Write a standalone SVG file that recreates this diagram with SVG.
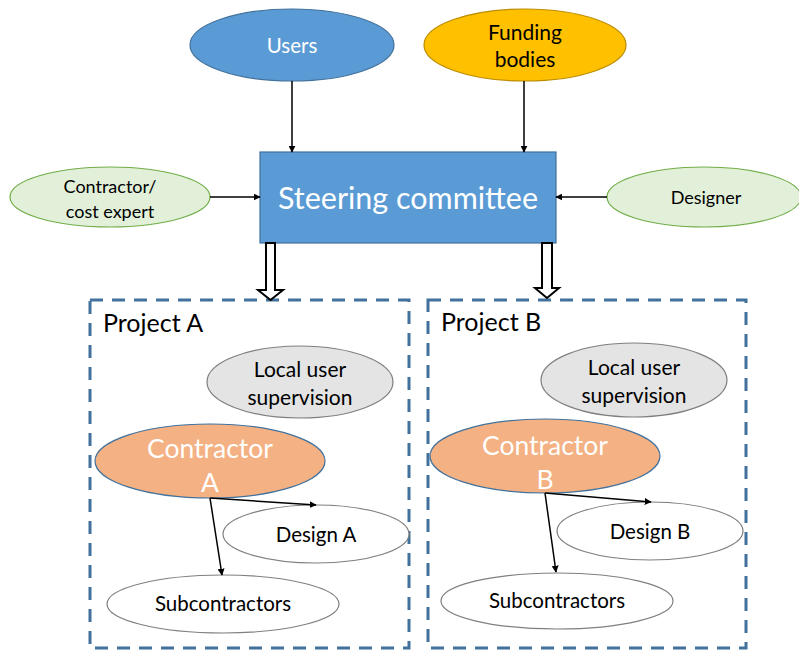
<svg xmlns="http://www.w3.org/2000/svg" width="799" height="650" viewBox="0 0 799 650">
  <defs>
    <marker id="arrow" viewBox="0 0 10 10" refX="9" refY="5" markerWidth="7" markerHeight="7" markerUnits="userSpaceOnUse" orient="auto">
      <path d="M0,0 L10,5 L0,10 z" fill="#000"/>
    </marker>
    <style>
      text { font-family: Lato, "Open Sans", "Liberation Sans", sans-serif; text-anchor: middle; }
      .conn { stroke: #000; stroke-width: 1.5; fill: none; marker-end: url(#arrow); }
      .block { fill: #fff; stroke: #000; stroke-width: 2; }
      .frame { fill: none; stroke: #41719C; stroke-width: 3; stroke-dasharray: 13 9; }
      .blue { fill: #5B9BD5; stroke: #41719C; stroke-width: 1.2; }
      .gold { fill: #FFC000; stroke: #BC8C00; stroke-width: 1.2; }
      .green { fill: #E2F0D9; stroke: #70AD47; stroke-width: 1.2; }
      .grey { fill: #E4E4E4; stroke: #7F7F7F; stroke-width: 1.2; }
      .orange { fill: #F4B183; stroke: #41719C; stroke-width: 1.2; }
      .plain { fill: #fff; stroke: #7F7F7F; stroke-width: 1.2; }
      .light { fill: #fff; }
      .dark { fill: #000; }
    </style>
  </defs>

  <!-- project frames -->
  <g id="projectA">
    <rect class="frame" x="90" y="300" width="319" height="348"/>
    <text class="dark" x="103" y="332" font-size="25" style="text-anchor:start">Project A</text>
  </g>
  <g id="projectB">
    <rect class="frame" x="428" y="300" width="318" height="348"/>
    <text class="dark" x="441" y="331" font-size="25" style="text-anchor:start">Project B</text>
  </g>

  <!-- top level nodes -->
  <g id="users">
    <ellipse class="blue" cx="292" cy="45" rx="102" ry="36"/>
    <text class="light" x="292" y="53" font-size="20.5">Users</text>
  </g>
  <g id="funding">
    <ellipse class="gold" cx="525" cy="45" rx="101" ry="36"/>
    <text class="dark" x="525" y="40" font-size="21">Funding</text>
    <text class="dark" x="525" y="67" font-size="21">bodies</text>
  </g>
  <g id="steering">
    <rect class="blue" x="260" y="152" width="296" height="91"/>
    <text class="light" x="408" y="209" font-size="30.5">Steering committee</text>
  </g>
  <g id="costExpert">
    <ellipse class="green" cx="110" cy="197" rx="100" ry="30"/>
    <text class="dark" x="110" y="193" font-size="18">Contractor/</text>
    <text class="dark" x="110" y="218" font-size="18">cost expert</text>
  </g>
  <g id="designer">
    <ellipse class="green" cx="704" cy="197" rx="97" ry="30"/>
    <text class="dark" x="706" y="204" font-size="18">Designer</text>
  </g>

  <!-- project A nodes -->
  <g id="localA">
    <ellipse class="grey" cx="300" cy="382" rx="93" ry="36"/>
    <text class="dark" x="300" y="377" font-size="21">Local user</text>
    <text class="dark" x="300" y="405" font-size="21">supervision</text>
  </g>
  <g id="contractorA">
    <ellipse class="orange" cx="210" cy="461" rx="115" ry="37"/>
    <text class="light" x="210" y="458" font-size="26.5">Contractor</text>
    <text class="light" x="210" y="492" font-size="26.5">A</text>
  </g>
  <g id="designA">
    <ellipse class="plain" cx="316" cy="534" rx="93" ry="29"/>
    <text class="dark" x="316" y="542" font-size="20.5">Design A</text>
  </g>
  <g id="subA">
    <ellipse class="plain" cx="223" cy="604" rx="116" ry="29"/>
    <text class="dark" x="223" y="611" font-size="20.5">Subcontractors</text>
  </g>

  <!-- project B nodes -->
  <g id="localB">
    <ellipse class="grey" cx="634" cy="380" rx="93" ry="37"/>
    <text class="dark" x="634" y="375" font-size="21">Local user</text>
    <text class="dark" x="634" y="403" font-size="21">supervision</text>
  </g>
  <g id="contractorB">
    <ellipse class="orange" cx="545" cy="456" rx="115" ry="37"/>
    <text class="light" x="545" y="455" font-size="26.5">Contractor</text>
    <text class="light" x="545" y="489" font-size="26.5">B</text>
  </g>
  <g id="designB">
    <ellipse class="plain" cx="650" cy="531" rx="93" ry="29"/>
    <text class="dark" x="650" y="539" font-size="20.5">Design B</text>
  </g>
  <g id="subB">
    <ellipse class="plain" cx="557" cy="601" rx="116" ry="28"/>
    <text class="dark" x="557" y="608" font-size="20.5">Subcontractors</text>
  </g>

  <!-- connectors -->
  <g id="connectors">
    <line class="conn" x1="292" y1="81" x2="292" y2="152"/>
    <line class="conn" x1="524" y1="81" x2="524" y2="152"/>
    <line class="conn" x1="210" y1="197" x2="260" y2="197"/>
    <line class="conn" x1="607" y1="197" x2="556" y2="197"/>
    <path class="block" d="M266,243 H275 V290 H283 L270.5,300 L258,290 H266 Z"/>
    <path class="block" d="M542,243 H552 V288 H559 L547,298 L535,288 H542 Z"/>
    <line class="conn" x1="210" y1="498" x2="316" y2="505"/>
    <line class="conn" x1="210" y1="498" x2="222" y2="575"/>
    <line class="conn" x1="545" y1="493" x2="651" y2="502"/>
    <line class="conn" x1="545" y1="493" x2="556" y2="572"/>
  </g>
</svg>
